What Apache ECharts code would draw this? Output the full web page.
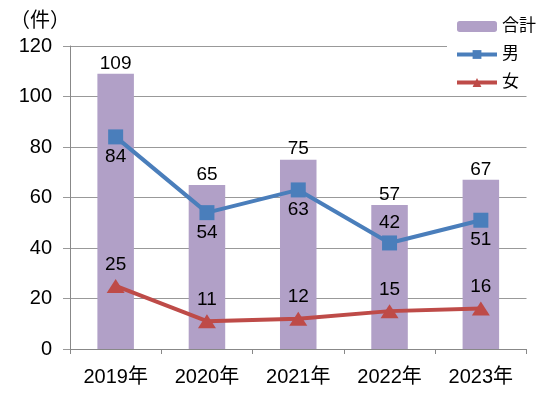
<!DOCTYPE html>
<html><head><meta charset="utf-8">
<script src="https://cdn.jsdelivr.net/npm/echarts@6/dist/echarts.min.js"></script>
<style>html,body{margin:0;padding:0;background:#fff}#c{width:543px;height:395px}</style>
</head><body><div id="c"></div>
<script>
var categories = ['2019年','2020年','2021年','2022年','2023年'];
var totalValues = [109, 65, 75, 57, 67];
var maleValues = [84, 54, 63, 42, 51];
var femaleValues = [25, 11, 12, 15, 16];
var seriesNames = ['合計','男','女'];
var yUnit = '（件）';

var FONT = '"Liberation Sans", "Noto Sans CJK JP", sans-serif';
var chart = echarts.init(document.getElementById('c'), null, {renderer:'canvas'});
chart.setOption({
  animation: false,
  backgroundColor: '#fff',
  textStyle: {fontFamily: FONT},
  graphic: [{type:'text', left: 10, top: 11, style:{text: yUnit, font: '20px ' + FONT, fill:'#000'}}],
  grid: {left: 70, right: 16.5, top: 46, bottom: 46, containLabel: false},
  legend: {
    orient: 'vertical', left: 447, top: 14, width: 96,
    padding: [4, 10, 4, 8],
    backgroundColor: '#fff',
    itemWidth: 40, itemHeight: 11, itemGap: 11,
    textStyle: {fontSize: 17, color: '#000', fontFamily: FONT},
    data: [
      {name: seriesNames[0]},
      {name: seriesNames[1], lineStyle: {width: 4}},
      {name: seriesNames[2], lineStyle: {width: 4}}
    ]
  },
  xAxis: {
    type: 'category', data: categories, boundaryGap: true,
    axisLine: {lineStyle: {color: '#888', width: 1}},
    axisTick: {show: true, length: 5, lineStyle: {color: '#888'}},
    axisLabel: {fontSize: 20, color: '#000', margin: 18, fontFamily: FONT}
  },
  yAxis: {
    type: 'value', min: 0, max: 120, interval: 20,
    axisLine: {show: true, lineStyle: {color: '#888'}},
    axisTick: {show: true, length: 7, lineStyle: {color: '#999'}},
    splitLine: {lineStyle: {color: '#999', width: 1}},
    axisLabel: {fontSize: 20, color: '#000', margin: 18, fontFamily: FONT}
  },
  series: [
    {name: seriesNames[0], type: 'bar', data: totalValues, barWidth: '40%',
     itemStyle: {color: '#B1A0C7'},
     label: {show: true, position: 'top', distance: 1, fontSize: 19, color: '#000', fontFamily: FONT}},
    {name: seriesNames[1], type: 'line', data: maleValues.map(function(v, i){
        return {value: v, label: {position: i === 3 ? 'top' : 'bottom'}};
     }),
     symbol: 'rect', symbolSize: 15,
     lineStyle: {color: '#4A7EBB', width: 4}, itemStyle: {color: '#4A7EBB'},
     label: {show: true, position: 'bottom', distance: 3, fontSize: 19, color: '#000', fontFamily: FONT}},
    {name: seriesNames[2], type: 'line', data: femaleValues,
     symbol: 'triangle', symbolSize: [18, 14],
     lineStyle: {color: '#BE4B48', width: 4}, itemStyle: {color: '#BE4B48'},
     label: {show: true, position: 'top', distance: 5, fontSize: 19, color: '#000', fontFamily: FONT}}
  ]
});
</script></body></html>
